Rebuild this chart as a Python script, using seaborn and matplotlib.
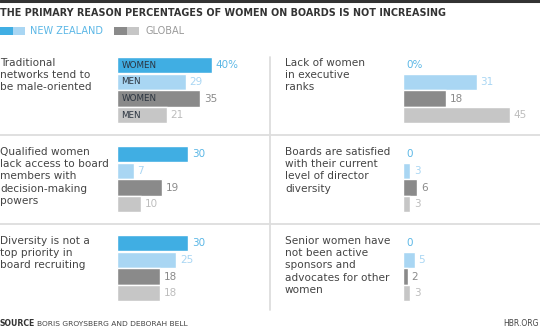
import matplotlib
matplotlib.use("Agg")
import matplotlib.pyplot as plt
import seaborn as sns
import pandas as pd
from matplotlib.lines import Line2D
from matplotlib.patches import Rectangle

sns.set_theme(style="white")
plt.rcParams['font.family'] = ['DejaVu Sans']

reasons = [
    "Traditional\nnetworks tend to\nbe male-oriented",
    "Lack of women\nin executive\nranks",
    "Qualified women\nlack access to board\nmembers with\ndecision-making\npowers",
    "Boards are satisfied\nwith their current\nlevel of director\ndiversity",
    "Diversity is not a\ntop priority in\nboard recruiting",
    "Senior women have\nnot been active\nsponsors and\nadvocates for other\nwomen",
]
groups = ["NZ women", "NZ men", "Global women", "Global men"]
bar_tags = ["WOMEN", "MEN", "WOMEN", "MEN"]
nz_women = [40, 0, 30, 0, 30, 0]
nz_men = [29, 31, 7, 3, 25, 5]
global_women = [35, 18, 19, 6, 18, 2]
global_men = [21, 45, 10, 3, 18, 3]

bar_colors = ["#40aee3", "#a9d6f3", "#8a8a8a", "#c6c6c6"]
label_colors = ["#5bb7e6", "#a9d6f3", "#8a8a8a", "#bdbdbd"]

W, H = 540, 332
fig = plt.figure(figsize=(W / 100, H / 100), dpi=100)
fig.patch.set_facecolor("white")

def fx(px):
    return px / W

def fy(py):
    return 1 - py / H

# top rule
fig.add_artist(Line2D([0, 1], [fy(1), fy(1)], color="#333333", lw=2.2))
fig.text(fx(0), fy(13), "THE PRIMARY REASON PERCENTAGES OF WOMEN ON BOARDS IS NOT INCREASING",
         fontsize=6.9, fontweight="bold", color="#333333", va="center", ha="left")

# legend
leg_y = 31
for x0, c in [(0, bar_colors[0]), (12.5, bar_colors[1]), (114, bar_colors[2]), (126.5, bar_colors[3])]:
    fig.add_artist(Rectangle((fx(x0), fy(leg_y + 3.5)), fx(12.5), 7 / H, color=c, lw=0))
fig.text(fx(30), fy(leg_y), "NEW ZEALAND", fontsize=7, color="#5bb7e6", va="center")
fig.text(fx(145), fy(leg_y), "GLOBAL", fontsize=7, color="#9a9a9a", va="center")

# dividers
div_c = "#dddddd"
for yy in [135, 224]:
    fig.add_artist(Line2D([0, 1], [fy(yy), fy(yy)], color=div_c, lw=1.3))
fig.add_artist(Line2D([fx(270), fx(270)], [fy(57), fy(310)], color=div_c, lw=1.3))

scale = 2.375  # px per percentage point
xmax = 60
row_tops = [57, 146, 235]
bar_block = 66.5

for i, reason in enumerate(reasons):
    row = i // 2
    col = i % 2
    left_px = 117 if col == 0 else 403
    text_px = 0 if col == 0 else 285
    top = row_tops[row]
    ax = fig.add_axes([fx(left_px), fy(top + bar_block), xmax * scale / W, bar_block / H])
    vals = [nz_women[i], nz_men[i], global_women[i], global_men[i]]
    df = pd.DataFrame({"group": groups, "value": vals})
    sns.barplot(data=df, x="value", y="group", hue="group", palette=bar_colors,
                order=groups, hue_order=groups, orient="h", width=0.97,
                legend=False, ax=ax, saturation=1)
    ax.set_xlim(0, xmax)
    ax.set_ylim(3.5, -0.5)
    ax.axis("off")
    for j, v in enumerate(vals):
        lab = f"{v}%" if (j == 0) and (row == 0) else f"{v}"
        ax.text(v + 1.6, j, lab, color=label_colors[j], fontsize=7.5,
                va="center", ha="left")
        if row == 0 and col == 0:
            ax.text(1.8, j, bar_tags[j], color="#2b3440", fontsize=6.3,
                    va="center", ha="left")
    fig.text(fx(text_px), fy(top + 1), reason, fontsize=7.6, color="#444444",
             va="top", ha="left", linespacing=1.28)

# footer
fig.text(fx(0), fy(324), "SOURCE", fontsize=5.6, fontweight="bold", color="#333333", va="center")
fig.text(fx(37), fy(324), "BORIS GROYSBERG AND DEBORAH BELL", fontsize=5.4, color="#444444", va="center")
fig.text(fx(539), fy(324), "HBR.ORG", fontsize=5.5, color="#444444", va="center", ha="right")

fig.savefig("out.png", dpi=100, facecolor="white")
